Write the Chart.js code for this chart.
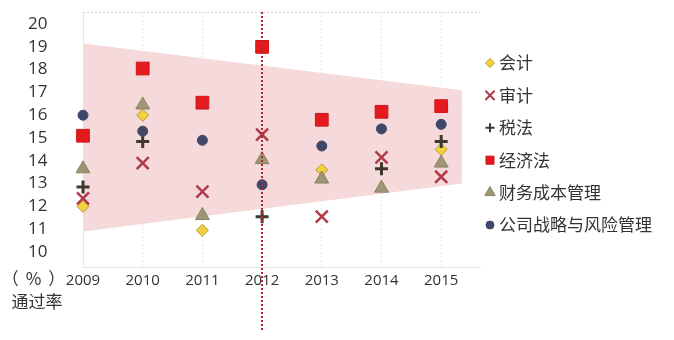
<!DOCTYPE html>
<html lang="zh">
<head>
  <meta charset="UTF-8">
  <title>通过率</title>
  <style>
    html, body { margin: 0; padding: 0; background: #ffffff; }
    #chart { display: block; }
  </style>
</head>
<body>
  <canvas id="chart" width="674" height="340"></canvas>

  <script src="https://cdn.jsdelivr.net/npm/chart.js@4/dist/chart.umd.min.js"></script>
  <script>
    // data (pass rate, %)
    const years = [2009, 2010, 2011, 2012, 2013, 2014, 2015];
    const kuaiji = [12.0, 16.0, 10.95, null, 13.6, null, 14.5];          // 会计
    const shenji = [12.35, 13.9, 12.65, 15.15, 11.55, 14.15, 13.3];      // 审计
    const shuifa = [12.85, 14.85, null, 11.55, null, 13.65, 14.85];      // 税法
    const jingjifa = [15.1, 18.05, 16.55, 19.0, 15.8, 16.15, 16.4];      // 经济法
    const caiwu = [13.65, 16.45, 11.6, 14.05, 13.2, 12.8, 13.9];         // 财务成本管理
    const gongsi = [16.0, 15.3, 14.9, 12.95, 14.65, 15.4, 15.6];         // 公司战略与风险管理

    // shaded range
    const bandX = [2009, 2015.35];
    const bandTop = [19.15, 17.1];
    const bandBottom = [10.9, 13.0];

    const yTicks = [10, 11, 12, 13, 14, 15, 16, 17, 18, 19, 20];
    const markYear = 2012;

    const pts = arr => years.map((y, i) => ({ x: y, y: arr[i] }));
    const band = arr => bandX.map((x, i) => ({ x: x, y: arr[i] }));

    const series = (label, data, style, radius, legendRadius, bg, border, bw, order) => ({
      type: 'scatter',
      label: label,
      data: pts(data),
      pointStyle: style,
      pointRadius: radius,
      pointHoverRadius: radius,
      backgroundColor: bg,
      borderColor: border,
      borderWidth: bw,
      legendRadius: legendRadius,
      order: order,
      clip: false
    });

    // legend, top dotted frame line, 2012 marker line, axis caption
    const extras = {
      id: 'extras',
      beforeDatasetsDraw(chart) {
        const { ctx, chartArea: a } = chart;
        ctx.save();
        ctx.strokeStyle = '#d6d6d6';
        ctx.lineWidth = 1;
        ctx.setLineDash([2, 2]);
        ctx.beginPath();
        ctx.moveTo(a.left, a.top + 0.5);
        ctx.lineTo(a.right, a.top + 0.5);
        ctx.stroke();
        ctx.restore();
      },
      afterDatasetsDraw(chart) {
        const { ctx, chartArea: a, scales } = chart;
        const x = Math.round(scales.x.getPixelForValue(markYear));
        ctx.save();
        ctx.strokeStyle = '#b8252b';
        ctx.lineWidth = 2;
        ctx.setLineDash([2, 2]);
        ctx.beginPath();
        ctx.moveTo(x, a.top);
        ctx.lineTo(x, chart.height - 10);
        ctx.stroke();
        ctx.restore();
      },
      afterDraw(chart) {
        const { ctx, chartArea: a, scales } = chart;
        ctx.save();
        ctx.fillStyle = '#333333';
        ctx.textAlign = 'center';
        ctx.textBaseline = 'middle';
        const cx = scales.y.left + 9;
        ctx.font = '17px "Noto Sans CJK SC"';
        ctx.letterSpacing = '7px';
        ctx.fillText('（%）', cx, scales.x.top + 12);
        ctx.letterSpacing = '0px';
        ctx.fillText('通过率', cx, scales.x.top + 35);

        // legend
        const lx = a.right + 10;
        let ly = a.top + 51;
        ctx.textAlign = 'left';
        chart.data.datasets.forEach(ds => {
          if (!ds.legendRadius) return;
          ctx.fillStyle = ds.backgroundColor;
          ctx.strokeStyle = ds.borderColor;
          ctx.lineWidth = Math.min(ds.borderWidth, 2);
          Chart.helpers.drawPoint(ctx, {
            pointStyle: ds.pointStyle, radius: ds.legendRadius,
            borderWidth: ctx.lineWidth, rotation: 0
          }, lx, ly);
          ctx.fillStyle = '#333333';
          ctx.font = '17px "Noto Sans CJK SC"';
          ctx.fillText(ds.label, lx + 9, ly);
          ly += 32.4;
        });
        ctx.restore();
      }
    };

    const ctx = document.querySelector('#chart').getContext('2d');
    const chart = new Chart(ctx, {
      data: {
        datasets: [
          series('会计', kuaiji, 'rectRot', 6, 4.5, '#f2d23c', '#b89a30', 1, 6),
          series('审计', shenji, 'crossRot', 8.5, 6.5, '#b03a4a', '#b03a4a', 2.5, 5),
          series('税法', shuifa, 'cross', 6.5, 4.5, '#3d3a2c', '#3d3a2c', 3, 4),
          series('经济法', jingjifa, 'rect', 9, 5.7, '#e51a1f', '#d0151a', 1, 3),
          series('财务成本管理', caiwu, 'triangle', 8, 6, '#9d9575', '#8a8262', 1, 2),
          series('公司战略与风险管理', gongsi, 'circle', 5, 4, '#3f4868', '#3f4868', 1, 1),
          {
            type: 'line', label: 'bandTop', data: band(bandTop), order: 10,
            borderWidth: 0, pointRadius: 0, fill: false, backgroundColor: 'rgba(0,0,0,0)'
          },
          {
            type: 'line', label: 'bandBottom', data: band(bandBottom), order: 9,
            borderWidth: 0, pointRadius: 0, fill: '-1', backgroundColor: '#f5d9db'
          }
        ]
      },
      options: {
        responsive: false,
        animation: false,
        layout: { padding: { top: 12, right: 194, bottom: 45, left: 28 } },
        plugins: {
          tooltip: { enabled: false },
          legend: { display: false }
        },
        scales: {
          x: {
            type: 'linear',
            min: 2009,
            max: 2015.65,
            afterBuildTicks: s => { s.ticks = years.map(v => ({ value: v })); },
            grid: { color: '#e6e6e6', drawTicks: false },
            border: { color: '#e4e4e4', dash: [2, 2] },
            ticks: {
              padding: 5,
              autoSkip: false,
              maxRotation: 0,
              color: '#333333',
              font: { family: '"Open Sans"', size: 15 },
              callback: v => String(v)
            }
          },
          y: {
            min: 9.34,
            max: 20.53,
            afterBuildTicks: s => { s.ticks = yTicks.map(v => ({ value: v })); },
            afterFit: s => { s.width = 55; },
            grid: { display: false },
            border: { color: '#e8e8e8' },
            ticks: {
              padding: 0,
              crossAlign: 'far',
              autoSkip: false,
              color: '#333333',
              font: { family: '"Open Sans"', size: 17 }
            }
          }
        }
      },
      plugins: [extras]
    });
  </script>
</body>
</html>
